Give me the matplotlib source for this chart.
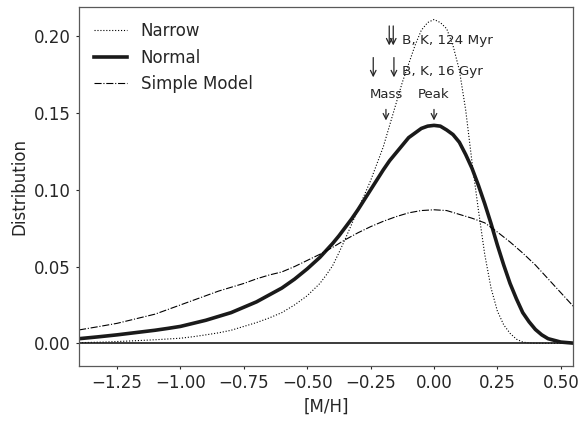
import numpy as np
import matplotlib
matplotlib.use('Agg')
import matplotlib.pyplot as plt

# --- data ---
x_narrow = [-1.40, -1.30, -1.20, -1.10, -1.00, -0.95, -0.90, -0.85, -0.80, -0.75, -0.70, -0.65,
            -0.60, -0.55, -0.50, -0.45, -0.425, -0.40, -0.375, -0.35, -0.325, -0.30, -0.275, -0.25,
            -0.225, -0.20, -0.175, -0.15, -0.125, -0.10, -0.075, -0.05, -0.025, 0.00, 0.025, 0.05,
            0.075, 0.10, 0.125, 0.15, 0.175, 0.20, 0.225, 0.25, 0.275, 0.30, 0.325, 0.35,
            0.375, 0.40, 0.55]
y_narrow = [0.0004, 0.0008, 0.0015, 0.0023, 0.0033, 0.0043, 0.0055, 0.0068, 0.0085, 0.011, 0.0135, 0.0165,
            0.020, 0.025, 0.031, 0.039, 0.0445, 0.0505, 0.059, 0.068, 0.0775, 0.087, 0.0965, 0.106,
            0.117, 0.128, 0.142, 0.156, 0.170, 0.182, 0.194, 0.204, 0.209, 0.211, 0.209, 0.205,
            0.194, 0.178, 0.152, 0.118, 0.087, 0.058, 0.036, 0.021, 0.012, 0.0065, 0.0027, 0.0008,
            0.0002, 0.0, 0.0]

x_normal = [-1.40, -1.325, -1.25, -1.175, -1.10, -1.05, -1.00, -0.95, -0.90, -0.85, -0.80, -0.75,
            -0.70, -0.65, -0.60, -0.55, -0.50, -0.45, -0.425, -0.40, -0.375, -0.35, -0.325, -0.30,
            -0.275, -0.25, -0.225, -0.20, -0.175, -0.15, -0.125, -0.10, -0.075, -0.05, -0.025, 0.00,
            0.025, 0.05, 0.075, 0.10, 0.125, 0.15, 0.175, 0.20, 0.225, 0.25, 0.275, 0.30,
            0.325, 0.35, 0.375, 0.40, 0.425, 0.45, 0.50, 0.55]
y_normal = [0.003, 0.0042, 0.0055, 0.007, 0.0085, 0.0097, 0.011, 0.013, 0.015, 0.0175, 0.020, 0.0235,
            0.027, 0.0315, 0.036, 0.0418, 0.0485, 0.056, 0.0605, 0.065, 0.070, 0.0755, 0.081, 0.087,
            0.0935, 0.100, 0.1065, 0.113, 0.119, 0.124, 0.129, 0.134, 0.137, 0.140, 0.1415, 0.142,
            0.1415, 0.139, 0.136, 0.131, 0.123, 0.114, 0.103, 0.091, 0.078, 0.064, 0.051, 0.039,
            0.029, 0.020, 0.014, 0.009, 0.0055, 0.003, 0.0008, 0.0001]

x_simple = [-1.40, -1.325, -1.25, -1.175, -1.10, -1.05, -1.00, -0.95, -0.90, -0.85, -0.80, -0.75,
            -0.70, -0.65, -0.60, -0.55, -0.50, -0.45, -0.40, -0.35, -0.30, -0.25, -0.20, -0.15,
            -0.10, -0.05, 0.00, 0.05, 0.10, 0.15, 0.20, 0.25, 0.30, 0.35, 0.40, 0.45,
            0.50, 0.55]
y_simple = [0.0087, 0.0108, 0.013, 0.016, 0.019, 0.022, 0.025, 0.028, 0.031, 0.034, 0.0365, 0.039,
            0.042, 0.0445, 0.0465, 0.050, 0.054, 0.058, 0.0625, 0.0675, 0.072, 0.076, 0.0795, 0.0825,
            0.085, 0.0865, 0.087, 0.0865, 0.084, 0.0815, 0.0785, 0.0725, 0.066, 0.0588, 0.051, 0.042,
            0.033, 0.024]

# metallicity markers
bk_124myr = [-0.1765, -0.1607]
bk_16gyr = [-0.2396, -0.158]
mass_mean = -0.1895
peak = 0.0

plt.rcParams['font.family'] = 'DejaVu Sans'
plt.rcParams['text.color'] = '.15'
plt.rcParams['axes.labelcolor'] = '.15'
plt.rcParams['xtick.color'] = '.15'
plt.rcParams['ytick.color'] = '.15'

fig, ax = plt.subplots(figsize=(5.81, 4.24), dpi=100)
fig.subplots_adjust(left=0.136, right=0.987, bottom=0.1375, top=0.983)

ax.plot(x_narrow, y_narrow, color='k', ls=':', lw=0.8, label='Narrow')
ax.plot(x_normal, y_normal, color='#1a1a1a', ls='-', lw=2.6, label='Normal')
ax.plot(x_simple, y_simple, color='k', ls='-.', lw=0.8, label='Simple Model')
ax.axhline(0, color='#1a1a1a', lw=1.2)

arr = dict(arrowstyle='->', color='.15', lw=0.9)
for xv in bk_124myr:
    ax.annotate('', xy=(xv, 0.1923), xytext=(xv, 0.2086), arrowprops=arr)
for xv in bk_16gyr:
    ax.annotate('', xy=(xv, 0.1715), xytext=(xv, 0.188), arrowprops=arr)
ax.text(-0.128, 0.1974, 'B, K, 124 Myr', fontsize=9.7, va='center', ha='left')
ax.text(-0.128, 0.1770, 'B, K, 16 Gyr', fontsize=9.7, va='center', ha='left')
ax.text(mass_mean, 0.162, 'Mass', fontsize=9.5, va='center', ha='center')
ax.text(peak, 0.162, 'Peak', fontsize=9.5, va='center', ha='center')
ax.annotate('', xy=(mass_mean, 0.1434), xytext=(mass_mean, 0.1542), arrowprops=arr)
ax.annotate('', xy=(peak, 0.1434), xytext=(peak, 0.1542), arrowprops=arr)

ax.set_xlim(-1.4, 0.55)
ax.set_ylim(-0.0146, 0.219)
ax.set_xticks([-1.25, -1.0, -0.75, -0.5, -0.25, 0.0, 0.25, 0.5])
ax.set_yticks([0.0, 0.05, 0.10, 0.15, 0.20])
ax.tick_params(labelsize=12, length=2.5, width=0.8, direction='out')
for s in ax.spines.values():
    s.set_color('0.35')
    s.set_linewidth(0.9)
ax.set_xlabel('[M/H]', fontsize=12)
ax.set_ylabel('Distribution', fontsize=12)
ax.legend(loc='upper left', frameon=False, fontsize=12)

plt.savefig('out.png', dpi=100)
